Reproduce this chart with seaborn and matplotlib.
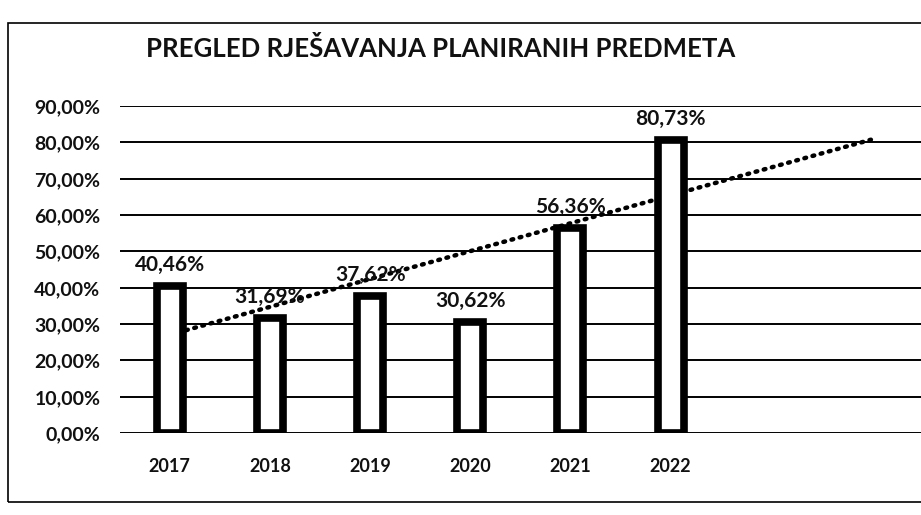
import numpy as np
import pandas as pd
import matplotlib
matplotlib.use("Agg")
import matplotlib.pyplot as plt
from matplotlib.ticker import FuncFormatter, MultipleLocator
from matplotlib.patches import Rectangle
import seaborn as sns

# ===== data =====
years = ["2017", "2018", "2019", "2020", "2021", "2022"]
share = [40.46, 31.69, 37.62, 30.62, 56.36, 80.73]   # % of planned cases resolved
title = "PREGLED RJEŠAVANJA PLANIRANIH PREDMETA"
forward_periods = 2   # linear trendline extended forward

df = pd.DataFrame({"year": years, "share": share})

sns.set_theme(style="white")
plt.rcParams["font.family"] = ["Lato", "DejaVu Sans"]

fig = plt.figure(figsize=(9.21, 5.15), dpi=100)
ax = fig.add_axes([0.130, 0.159, 0.870, 0.635])

# ===== linear trendline (behind the bars) =====
xi = np.arange(len(years))
k, b = np.polyfit(xi, df["share"].values, 1)
xt = np.array([0, len(years) - 1 + forward_periods])
ax.plot(xt, k * xt + b, color="black", lw=3.2, ls=(0, (0.4, 1.5)),
        dash_capstyle="round", zorder=2)

# ===== bars =====
sns.barplot(data=df, x="year", y="share", ax=ax, width=0.26,
            color="white", edgecolor="black", linewidth=5.5, zorder=3)

for i, v in enumerate(df["share"]):
    ax.annotate(f"{v:.2f}%".replace(".", ","), (i, v), xytext=(0, 8),
                textcoords="offset points", ha="center", va="bottom",
                fontsize=15, fontweight="bold", color="#111111")

# ===== axes styling =====
ax.set_xlim(-0.5, len(years) - 0.5 + forward_periods)
ax.set_ylim(0, 90)
ax.yaxis.set_major_locator(MultipleLocator(10))
ax.yaxis.set_major_formatter(FuncFormatter(lambda v, p: f"{v:.2f}%".replace(".", ",")))
ax.grid(axis="y", color="black", lw=1.4, zorder=0)
ax.set_axisbelow(True)
for s in ax.spines.values():
    s.set_visible(False)
ax.tick_params(axis="y", length=0, labelsize=14, colors="#111111", pad=14)
ax.tick_params(axis="x", length=0, labelsize=13, colors="#111111", pad=18)
for t in ax.get_xticklabels() + ax.get_yticklabels():
    t.set_fontweight("bold")
ax.set_xlabel("")
ax.set_ylabel("")

fig.text(0.478, 0.905, title, ha="center", va="center",
         fontsize=18.5, fontweight="bold", color="#111111")

# chart border
fig.add_artist(Rectangle((0.009, 0.025), 1.2, 0.93, transform=fig.transFigure,
                         fill=False, edgecolor="black", lw=1.2))

fig.savefig("out.png", dpi=100)
